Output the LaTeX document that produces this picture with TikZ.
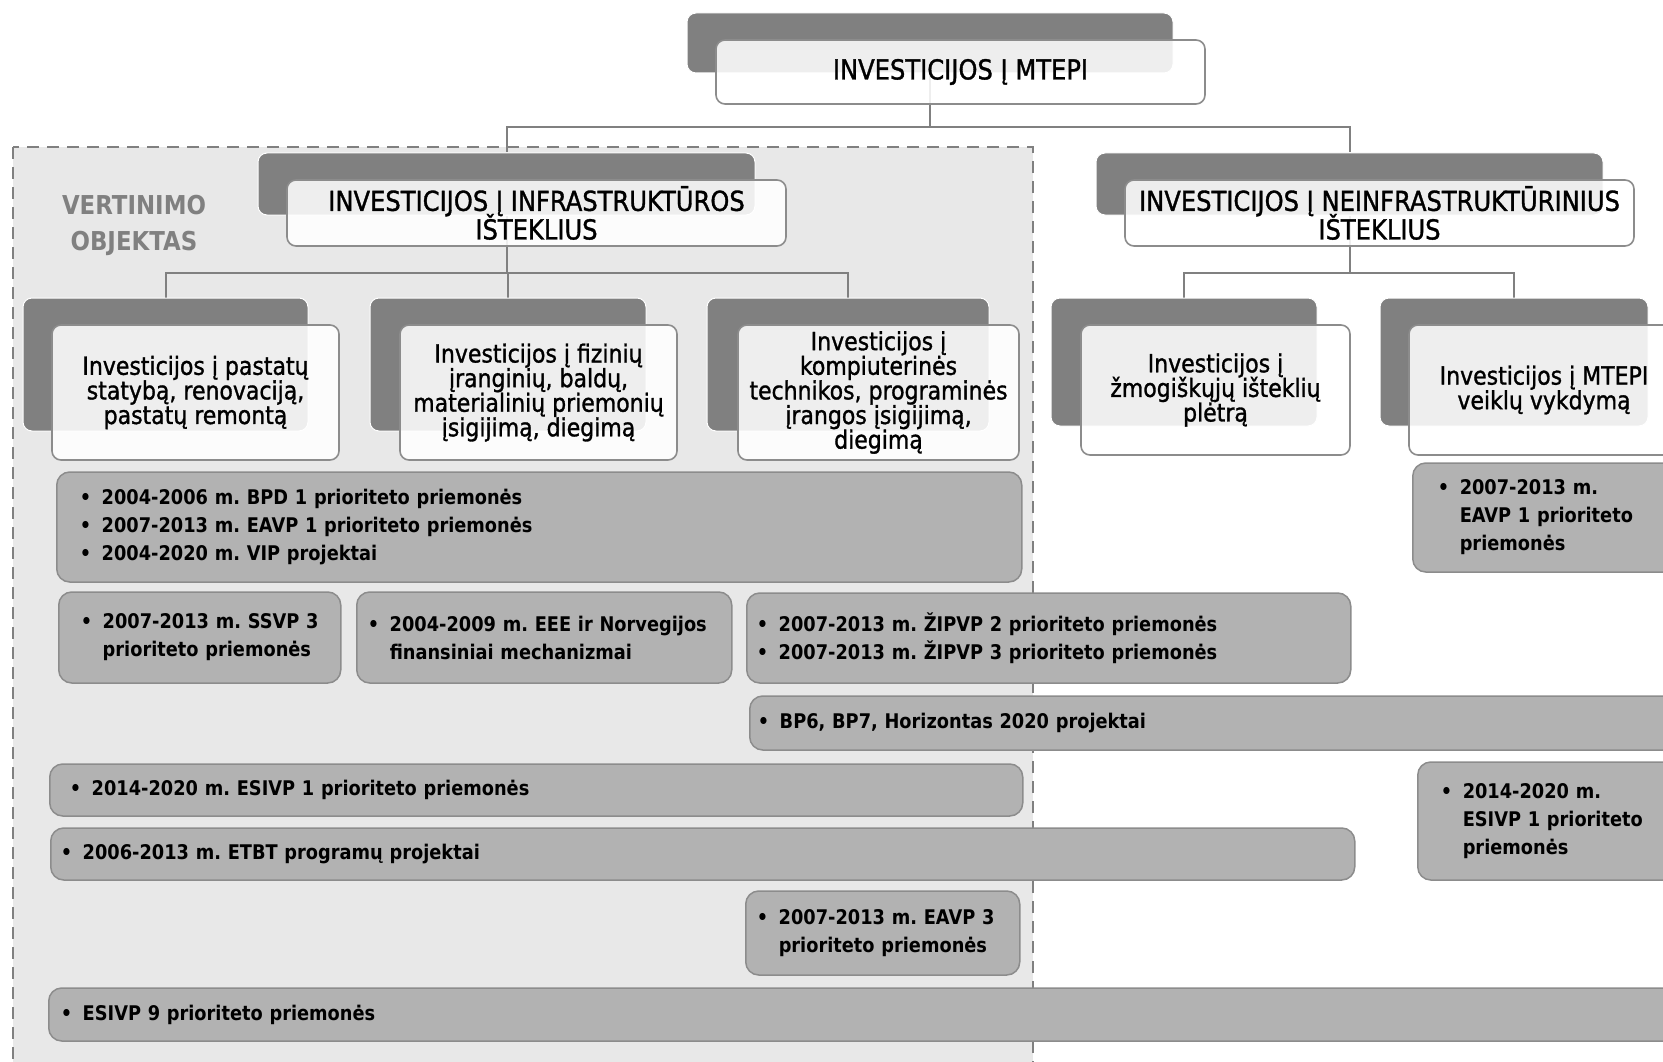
\documentclass[tikz,border=0pt]{standalone}
\usepackage{fontspec}
\setmainfont{DejaVu Sans}[FakeStretch=0.88]
\newfontfamily\headfont{DejaVu Sans}[FakeStretch=0.88, FakeBold=1.2]
\usetikzlibrary{positioning}
\pgfdeclarelayer{bg}
\pgfdeclarelayer{wires}
\pgfsetlayers{bg,wires,main}

\newcommand\bl[1]{\mbox{\makebox[22pt][l]{\textbullet}#1}}
\newcommand\cl[1]{\mbox{\hspace*{22pt}#1}}
\frenchspacing
\lineskiplimit=-30pt

\begin{document}
\begin{tikzpicture}[x=1pt, y=-1pt,
    darkbox/.style={rectangle, draw=white, line width=1pt, fill=gray, rounded corners=9pt, inner sep=0pt},
    lightbox/.style={rectangle, draw=gray!90, line width=1.6pt, fill=white, fill opacity=0.87, text opacity=1, rounded corners=9pt, align=center, inner sep=0pt, font=\headfont\fontsize{27.5}{28.6}\selectfont},
    subbox/.style={lightbox, font=\headfont\fontsize{25}{24.6}\selectfont},
    listbox/.style={rectangle, draw=black!45, line width=1.5pt, fill=gray!60, rounded corners=13pt, anchor=west, align=left, inner ysep=0pt, font=\bfseries\fontsize{20.2}{28}\selectfont},
    link/.style={draw=gray, line width=2pt}]

    \useasboundingbox (0,0) rectangle (1663,1062);
    \clip (0,0) rectangle (1663,1062);

    % evaluated area
    \begin{pgfonlayer}{bg}
    \draw[gray, line width=2.5pt, dash pattern=on 12pt off 8pt, fill=gray!18] (13,147) rectangle (1033,1080);
    \end{pgfonlayer}
    \node[font=\bfseries\fontsize{26}{36}\selectfont, text=gray, align=center] (eval) at (134,225) {VERTINIMO\\OBJEKTAS};

    % tree
    \node[darkbox, minimum width=486, minimum height=60] (rootB) at (930,43) {};
    \node[lightbox, minimum width=489, minimum height=64] (root) at (960.5,72) {INVESTICIJOS Į MTEPI};

    \node[darkbox, minimum width=497, minimum height=62] (infraB) at (506.5,184) {};
    \node[lightbox, minimum width=499, minimum height=66] (infra) at (536.5,213) {INVESTICIJOS Į INFRASTRUKTŪROS\\IŠTEKLIUS};
    \node[darkbox, minimum width=507, minimum height=62] (neinfB) at (1349.5,184) {};
    \node[lightbox, minimum width=509, minimum height=66] (neinf) at (1379.5,213) {INVESTICIJOS Į NEINFRASTRUKTŪRINIUS\\IŠTEKLIUS};

    \node[darkbox, minimum width=285, minimum height=133] (bldB) at (165.5,364.5) {};
    \node[subbox, minimum width=287, minimum height=135] (bld) at (195.5,392.5) {Investicijos į pastatų\\statybą, renovaciją,\\pastatų remontą};
    \node[darkbox, minimum width=276, minimum height=133] (equipB) at (508,364.5) {};
    \node[subbox, minimum width=277, minimum height=135] (equip) at (538.5,392.5) {Investicijos į fizinių\\įranginių, baldų,\\materialinių priemonių\\įsigijimą, diegimą};
    \node[darkbox, minimum width=282, minimum height=133] (compB) at (848,364.5) {};
    \node[subbox, minimum width=281, minimum height=135] (comp) at (878.5,392.5) {Investicijos į\\kompiuterinės\\technikos, programinės\\įrangos įsigijimą,\\diegimą};
    \node[darkbox, minimum width=266, minimum height=128] (humB) at (1184,362) {};
    \node[subbox, minimum width=269, minimum height=130] (hum) at (1215.5,390) {Investicijos į\\žmogiškųjų išteklių\\plėtrą};
    \node[darkbox, minimum width=268, minimum height=128] (rdB) at (1514,362) {};
    \node[subbox, minimum width=270, minimum height=130] (rd) at (1544,390) {Investicijos į MTEPI\\veiklų vykdymą};

    \begin{pgfonlayer}{wires}
    \draw[link] (rootB.south) -- ++(0,54) -| (infraB.north);
    \draw[link] (rootB.south) -- ++(0,54) -| (neinfB.north);
    \draw[link] (infraB.south) -- ++(0,57) -| (bldB.north);
    \draw[link] (infraB.south) -- ++(0,57) -| (equipB.north);
    \draw[link] (infraB.south) -- ++(0,57) -| (compB.north);
    \draw[link] (neinfB.south) -- ++(0,57) -| (humB.north);
    \draw[link] (neinfB.south) -- ++(0,57) -| (rdB.north);
    \end{pgfonlayer}

    % programmes
    \node[listbox, minimum height=110, text width=919, inner xsep=23] (bpd) at (56,527) {\bl{2004-2006 m. BPD 1 prioriteto priemonės}\\\bl{2007-2013 m. EAVP 1 prioriteto priemonės}\\\bl{2004-2020 m. VIP projektai}};
    \node[listbox, minimum height=109, text width=250, inner xsep=25] (eavpA) at (1412,517.5) {\bl{2007-2013 m.}\\\cl{EAVP 1 prioriteto}\\\cl{priemonės}};
    \node[listbox, minimum height=91, text width=238, inner xsep=22] (ssvp) at (58,637.5) {\bl{2007-2013 m. SSVP 3}\\\cl{prioriteto priemonės}};
    \node[listbox, minimum height=91, text width=353, inner xsep=11] (eee) at (356,637.5) {\bl{2004-2009 m. EEE ir Norvegijos}\\\cl{finansiniai mechanizmai}};
    \node[listbox, minimum height=90, text width=584, inner xsep=10] (zipvp) at (746,638) {\bl{2007-2013 m. ŽIPVP 2 prioriteto priemonės}\\\bl{2007-2013 m. ŽIPVP 3 prioriteto priemonės}};
    \node[listbox, minimum height=54, text width=944, inner xsep=8] (bp) at (749,723) {\bl{BP6, BP7, Horizontas 2020 projektai}};
    \node[listbox, minimum height=52, text width=933, inner xsep=20] (esivpA) at (49,790) {\bl{2014-2020 m. ESIVP 1 prioriteto priemonės}};
    \node[listbox, minimum height=118, text width=254, inner xsep=23] (esivpB) at (1417,821) {\bl{2014-2020 m.}\\\cl{ESIVP 1 prioriteto}\\\cl{priemonės}};
    \node[listbox, minimum height=52, text width=1284, inner xsep=10] (etbt) at (50,854) {\bl{2006-2013 m. ETBT programų projektai}};
    \node[listbox, minimum height=84, text width=252, inner xsep=11] (eavpB) at (745,933) {\bl{2007-2013 m. EAVP 3}\\\cl{prioriteto priemonės}};
    \node[listbox, minimum height=53, text width=1636, inner xsep=12] (esivpC) at (48,1014.5) {\bl{ESIVP 9 prioriteto priemonės}};
\end{tikzpicture}
\end{document}
